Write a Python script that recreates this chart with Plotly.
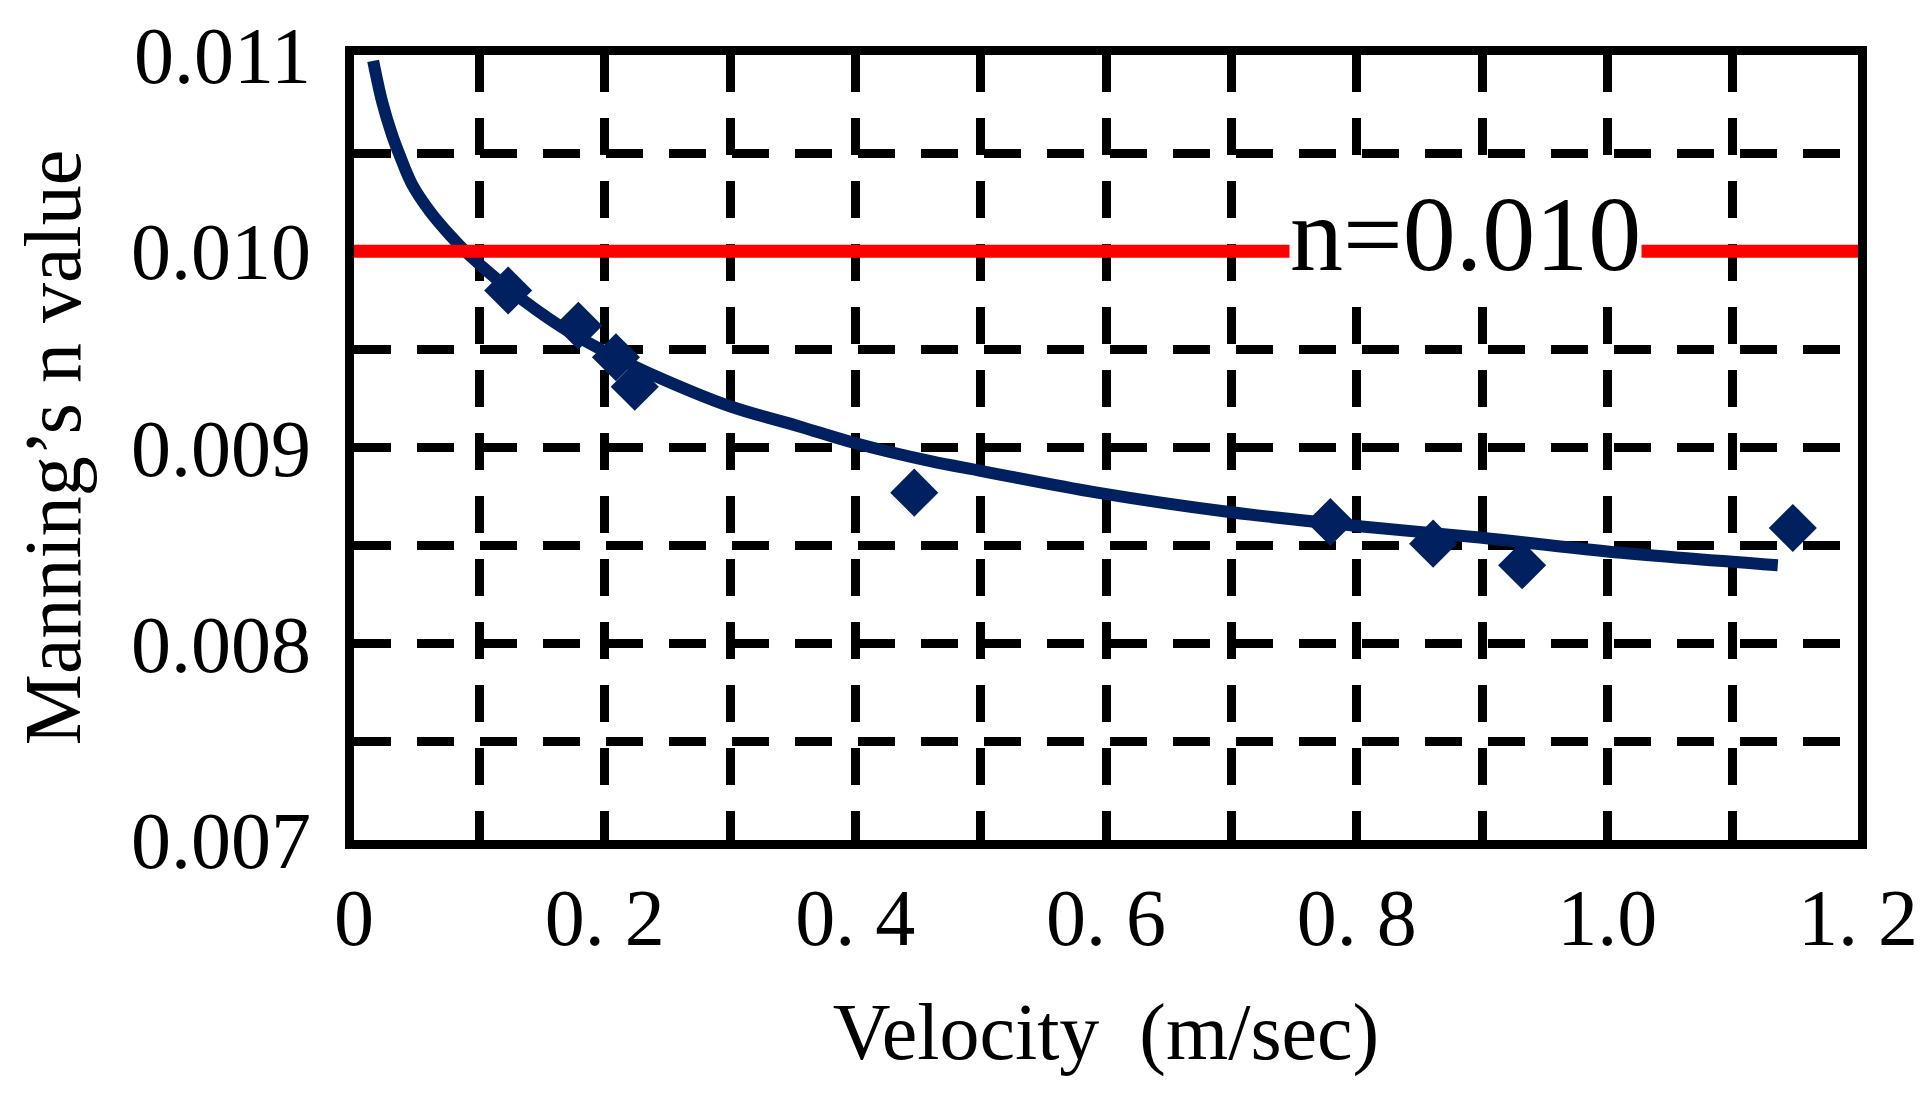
import plotly.graph_objects as go

# Measured data points (diamonds)
velocity = [0.123, 0.179, 0.209, 0.224, 0.447, 0.779, 0.861, 0.932, 1.148]
manning_n = [0.00980, 0.00962, 0.00946, 0.00931, 0.00877, 0.00862, 0.00851, 0.00840, 0.00859]

# Trend curve
trend_v = [0.0153, 0.0225, 0.0300, 0.0370, 0.0464, 0.0609, 0.0768, 0.0888, 0.108,
           0.135, 0.169, 0.209, 0.235, 0.300, 0.354, 0.401, 0.460, 0.501, 0.593,
           0.700, 0.800, 0.900, 1.000, 1.136]
trend_n = [0.01097, 0.01076, 0.01060, 0.01048, 0.01034, 0.01020, 0.01008, 0.01000,
           0.00989, 0.00975, 0.00960, 0.00946, 0.00938, 0.00921, 0.00911, 0.00902,
           0.00893, 0.00888, 0.00877, 0.00867, 0.00860, 0.00854, 0.00847, 0.00840]

# Reference line n = 0.010
ref_v = [0.0, 1.2]
ref_n = [0.010, 0.010]
ref_label = "n=0.010"
ref_label_x = 0.887

# Axis ticks
x_tickvals = [0.0, 0.1, 0.2, 0.3, 0.4, 0.5, 0.6, 0.7, 0.8, 0.9, 1.0, 1.1, 1.2]
x_ticktext = ["0", "", "0. 2", "", "0. 4", "", "0. 6", "", "0. 8", "", "1.0", "", "1. 2"]
y_tickvals = [0.007, 0.0075, 0.008, 0.0085, 0.009, 0.0095, 0.010, 0.0105, 0.011]
y_ticktext = ["0.007", "", "0.008", "", "0.009", "", "0.010", "", "0.011"]

x_title = "Velocity\u00a0 (m/sec)"
y_title = "Manning\u2019s n value"

FONT = "Liberation Serif, Times New Roman, serif"
NAVY = "#002060"

fig = go.Figure()
fig.add_trace(go.Scatter(
    x=velocity, y=manning_n, mode="markers",
    marker=dict(symbol="diamond", size=37, color=NAVY, line=dict(width=0)),
    showlegend=False, hoverinfo="skip"))
fig.add_trace(go.Scatter(
    x=trend_v, y=trend_n, mode="lines",
    line=dict(color=NAVY, width=12, shape="spline", smoothing=1.0),
    showlegend=False, hoverinfo="skip"))
fig.add_trace(go.Scatter(
    x=ref_v, y=ref_n, mode="lines",
    line=dict(color="#ff0000", width=13),
    showlegend=False, hoverinfo="skip"))

fig.add_annotation(
    x=ref_label_x, y=ref_n[0], xref="x", yref="y", text=ref_label,
    showarrow=False, bgcolor="white", borderpad=0, yshift=17,
    font=dict(family=FONT, size=106, color="black"))

axis_common = dict(
    showline=True, mirror=True, linecolor="black", linewidth=9,
    showgrid=True, gridcolor="black", gridwidth=9, griddash="37px,26px",
    zeroline=False, ticks="",
    tickfont=dict(family=FONT, size=80, color="black"),
)

fig.update_xaxes(
    range=[0, 1.2], tickmode="array", tickvals=x_tickvals, ticktext=x_ticktext,
    title=dict(text=x_title, font=dict(family=FONT, size=80, color="black"), standoff=45),
    **axis_common)
fig.update_yaxes(
    range=[0.007, 0.011], tickmode="array", tickvals=y_tickvals, ticktext=y_ticktext,
    ticklabelstandoff=18,
    title=dict(text=y_title, font=dict(family=FONT, size=80, color="black"), standoff=28),
    **axis_common)

fig.update_layout(
    width=1930, height=1096,
    margin=dict(l=354, r=66, t=44, b=256, pad=0),
    paper_bgcolor="white", plot_bgcolor="white",
    font=dict(family=FONT, color="black"),
    showlegend=False,
)

fig.write_html("out.html", config={"displayModeBar": False},
               post_script="document.body.style.margin='0';document.body.style.overflow='hidden';")
